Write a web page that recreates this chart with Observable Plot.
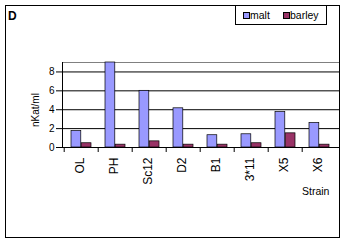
<!DOCTYPE html>
<html>
<head>
<meta charset="utf-8">
<script src="https://cdn.jsdelivr.net/npm/d3@7"></script>
<script src="https://cdn.jsdelivr.net/npm/@observablehq/plot@0.6"></script>
<style>
  html, body { margin: 0; padding: 0; background: #fff; }
  #wrap { position: relative; width: 344px; height: 242px; font-family: "Liberation Sans", Arial, sans-serif; }
  #wrap svg { position: absolute; left: 0; top: 0; }
  .border { position: absolute; left: 5px; top: 5px; width: 333px; height: 231px; border: 1px solid #000; pointer-events: none; }
  .title { position: absolute; left: 8px; top: 9px; font-weight: bold; font-size: 12px; line-height: 14px; }
  .legend { position: absolute; left: 235px; top: 5px; width: 90px; height: 18px; border: 1px solid #000; background: #fff; font-size: 10.5px; line-height: 18px; }
  .legend .sw { position: absolute; top: 6px; width: 5px; height: 5px; border: 0.75px solid #000; }
  .legend .lb { position: absolute; top: 1px; }
  .xlabel { position: absolute; left: 302px; top: 185px; font-size: 10.5px; }
</style>
</head>
<body>
<div id="wrap"></div>
<script>
const strains = ["OL", "PH", "Sc12", "D2", "B1", "3*11", "X5", "X6"];
const malt    = [1.75, 9.0, 6.0, 4.15, 1.3, 1.4, 3.75, 2.6];
const barley  = [0.45, 0.3, 0.65, 0.3, 0.3, 0.45, 1.5, 0.3];
const yTicks  = [0, 2, 4, 6, 8];
const seriesNames = ["malt", "barley"];
const seriesColors = ["#9999FF", "#993366"];

const data = strains.map((s, i) => ({strain: s, malt: malt[i], barley: barley[i]}));

const W = 344, H = 242, mL = 62, mR = 5, mT = 62, mB = 95;
const step = (W - mL - mR) / strains.length;
const padInner = 0.41;
const bw = step * (1 - padInner);

const chart = Plot.plot({
  width: W, height: H,
  marginLeft: mL, marginRight: mR, marginTop: mT, marginBottom: mB,
  style: {fontFamily: '"Liberation Sans", Arial, sans-serif', background: "transparent"},
  x: {domain: strains, paddingInner: padInner, paddingOuter: padInner / 2},
  y: {domain: [0, 9]},
  marks: [
    Plot.ruleY(yTicks.filter(d => d > 0), {stroke: "#000", strokeWidth: 1}),
    Plot.ruleY([9], {stroke: "#808080", strokeWidth: 1}),
    Plot.barY(data, {x: "strain", y: "malt", fill: seriesColors[0], stroke: "#000", strokeWidth: 0.7, insetRight: bw / 2}),
    Plot.barY(data, {x: "strain", y: "barley", fill: seriesColors[1], stroke: "#000", strokeWidth: 0.7, insetLeft: bw / 2}),
    Plot.ruleY([0], {stroke: "#000", strokeWidth: 1}),
    Plot.frame({anchor: "left", stroke: "#000", strokeWidth: 1}),
    Plot.axisY({ticks: yTicks, tickSize: 6, tickPadding: 2, fontSize: 10, label: null, stroke: "#000"}),
    Plot.axisX({tickSize: 5, text: null, dx: -step / 2, label: null, stroke: "#000"}),
    Plot.axisX({tickSize: 0, tickPadding: 10, tickRotate: -90, fontSize: 12, label: null, dx: -1}),
    Plot.text(["nKat/ml"], {frameAnchor: "left", dx: -27, dy: 22, rotate: -90, fontSize: 10, fill: "#000"})
  ]
});

const wrap = document.getElementById("wrap");
wrap.appendChild(chart);

const border = document.createElement("div");
border.className = "border";
wrap.appendChild(border);

const title = document.createElement("div");
title.className = "title";
title.textContent = "D";
wrap.appendChild(title);

const legend = document.createElement("div");
legend.className = "legend";
const swX = [7, 47];
const lbX = [14, 54];
seriesNames.forEach((n, i) => {
  const sw = document.createElement("div");
  sw.className = "sw";
  sw.style.left = swX[i] + "px";
  sw.style.background = seriesColors[i];
  legend.appendChild(sw);
  const lb = document.createElement("div");
  lb.className = "lb";
  lb.style.left = lbX[i] + "px";
  lb.style.lineHeight = "16px";
  lb.textContent = n;
  legend.appendChild(lb);
});
wrap.appendChild(legend);

const xl = document.createElement("div");
xl.className = "xlabel";
xl.textContent = "Strain";
wrap.appendChild(xl);
</script>
</body>
</html>
